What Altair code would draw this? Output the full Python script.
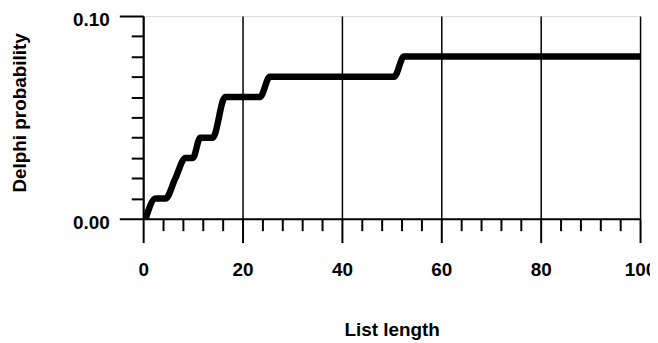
import altair as alt
import pandas as pd

# Data
list_length = [0.5, 2.5, 4.5, 6.5, 8.5, 10.0, 11.5, 14.0, 16.5, 23.5, 25.5, 50.5, 52.5, 100.0]
delphi_prob = [0.0, 0.01, 0.01, 0.02, 0.03, 0.03, 0.04, 0.04, 0.06, 0.06, 0.07, 0.07, 0.08, 0.08]

x_ticks = list(range(0, 101, 4))
y_ticks = [0.0, 0.01, 0.02, 0.03, 0.04, 0.05, 0.06, 0.07, 0.08, 0.09, 0.1]

df = pd.DataFrame({"x": list_length, "y": delphi_prob})

FONT = "Liberation Sans"

x_axis = alt.Axis(
    title="List length",
    values=x_ticks,
    labelExpr="datum.value % 20 == 0 ? datum.label : ''",
    tickSize={"condition": {"test": "datum.value % 20 == 0", "value": 24}, "value": 12},
    tickWidth=2,
    tickColor="black",
    grid=True,
    gridColor="black",
    gridWidth=1.5,
    gridOpacity={"condition": {"test": "datum.value % 20 == 0", "value": 1}, "value": 0},
    domainColor="black",
    domainWidth=2,
    labelFont=FONT,
    labelFontSize=19,
    labelFontWeight="bold",
    labelColor="black",
    labelPadding=18,
    labelFlush=False,
    labelOverlap=False,
    titleFont=FONT,
    titleFontSize=19,
    titleFontWeight="bold",
    titleColor="black",
    titlePadding=41,
)

y_axis = alt.Axis(
    title="Delphi probability",
    values=y_ticks,
    format=".2f",
    labelExpr="(datum.value < 0.001 || datum.value > 0.099) ? datum.label : ''",
    tickSize={"condition": {"test": "datum.value < 0.001 || datum.value > 0.099", "value": 24}, "value": 12},
    tickWidth=2,
    tickColor="black",
    grid=False,
    domainColor="black",
    domainWidth=2,
    labelFont=FONT,
    labelFontSize=19,
    labelFontWeight="bold",
    labelColor="black",
    labelPadding=10,
    labelOffset=4,
    labelFlush=False,
    labelOverlap=False,
    titleFont=FONT,
    titleFontSize=19,
    titleFontWeight="bold",
    titleColor="black",
    titlePadding=43,
    titleY=97,
)

chart = (
    alt.Chart(df)
    .mark_line(color="black", strokeWidth=6.5, interpolate="monotone", clip=True)
    .encode(
        x=alt.X("x:Q", scale=alt.Scale(domain=[0, 100], nice=False), axis=x_axis),
        y=alt.Y("y:Q", scale=alt.Scale(domain=[0, 0.1], nice=False, zero=False), axis=y_axis),
    )
    .properties(
        width=500,
        height=204,
        autosize=alt.AutoSizeParams(type="none"),
        padding={"left": 136, "top": 7, "right": 10, "bottom": 128},
    )
    .configure_view(stroke="black", strokeWidth=1.5)
    .configure(background="white")
)

chart.save("out.html", embed_options={"renderer": "svg", "actions": False})
